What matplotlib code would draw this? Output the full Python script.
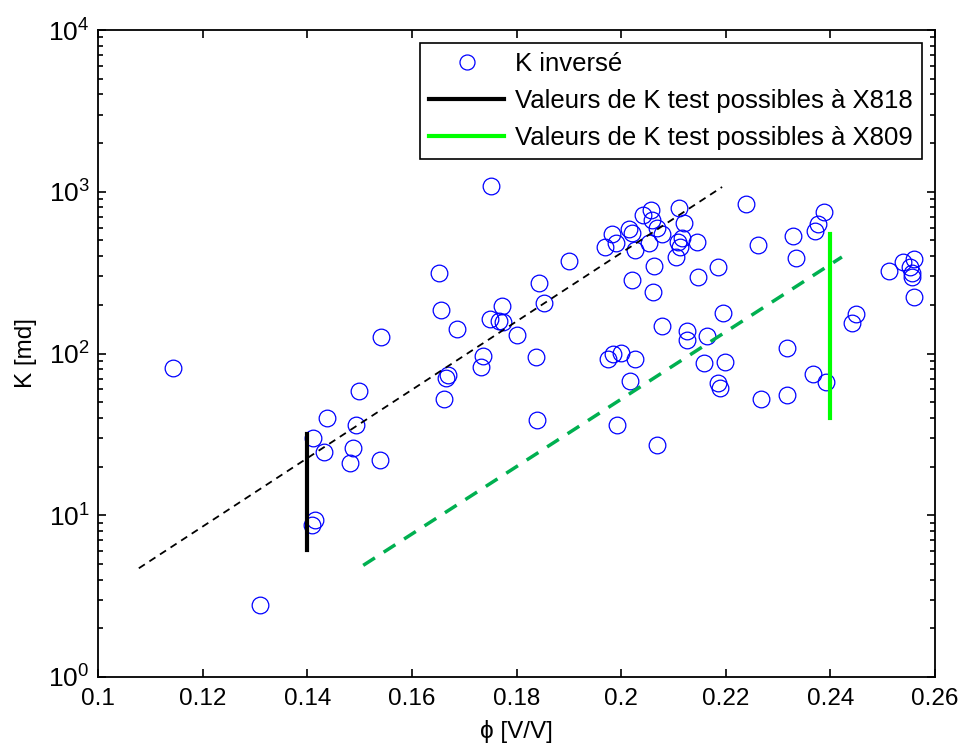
import matplotlib
matplotlib.use('Agg')
import matplotlib.pyplot as plt
import numpy as np
from matplotlib.ticker import LogLocator, NullFormatter

plt.rcParams['font.family'] = ['Liberation Sans', 'DejaVu Sans']
plt.rcParams['mathtext.default'] = 'regular'

# porosite / permeabilite inversee
phi = [0.1143, 0.1310, 0.1411, 0.1414, 0.1410, 0.1432, 0.1438, 0.1493, 0.1487,
       0.1482, 0.1499, 0.1539, 0.1541, 0.1652, 0.1656, 0.1686, 0.1751, 0.1772,
       0.1749, 0.1767, 0.1774, 0.1801, 0.1736, 0.1732, 0.1669, 0.1665, 0.1661,
       0.1837, 0.1843, 0.1853, 0.1900, 0.1839, 0.1992, 0.2069, 0.2021, 0.2063,
       0.2061, 0.2147, 0.2078, 0.2126, 0.2126, 0.2164, 0.2158, 0.1975, 0.1985,
       0.2000, 0.2027, 0.2017, 0.1969, 0.1983, 0.1990, 0.2015, 0.2021, 0.2027,
       0.2042, 0.2057, 0.2059, 0.2069, 0.2053, 0.2078, 0.2111, 0.2120, 0.2116,
       0.2109, 0.2113, 0.2105, 0.2145, 0.2185, 0.2239, 0.2262, 0.2329, 0.2334,
       0.2370, 0.2376, 0.2388, 0.2512, 0.2539, 0.2560, 0.2552, 0.2556, 0.2556,
       0.2560, 0.2449, 0.2441, 0.2195, 0.2199, 0.2185, 0.2189, 0.2317, 0.2367,
       0.2392, 0.2317, 0.2267]
K = [81, 2.8, 30, 9.3, 8.7, 24.5, 40, 36, 26,
     21, 59, 22, 126, 315, 186, 142, 1085, 197,
     163, 159, 157, 130, 96, 83, 74, 71, 52,
     95, 273, 205, 373, 39, 36, 27, 285, 347,
     240, 297, 148, 138, 121, 128, 87, 92, 99,
     101, 92, 68, 455, 548, 482, 589, 556, 436,
     718, 771, 668, 597, 482, 548, 794, 641, 518,
     489, 455, 395, 489, 343, 840, 469, 533, 389,
     572, 632, 750, 324, 368, 384, 343, 315, 297,
     224, 175, 154, 178, 89, 66, 61, 108, 75,
     67, 55, 52]

# tendances (droites en semilog)
fit_x818_phi = [0.1078, 0.2193]
fit_x818_K = [4.7, 1070]
fit_x809_phi = [0.1507, 0.2422]
fit_x809_K = [4.9, 395]

# plages de K test
x818_phi = [0.14, 0.14]
x818_K = [6.1, 32]
x809_phi = [0.24, 0.24]
x809_K = [40, 550]

fig = plt.figure(figsize=(9.66, 7.46), dpi=100)
ax = fig.add_axes([98/966, 69/746, 837/966, 647/746])

ax.semilogy(phi, K, 'o', mfc='none', mec='b', ms=12, mew=0.9, label='K inversé')
ax.plot(fit_x818_phi, fit_x818_K, 'k--', lw=1.3, dashes=(4, 3))
ax.plot(x818_phi, x818_K, 'k-', lw=3, label='Valeurs de K test possibles à X818')
ax.plot(x809_phi, x809_K, '-', color='#00ff00', lw=3, label='Valeurs de K test possibles à X809')
ax.plot(fit_x809_phi, fit_x809_K, '--', color='#00b050', lw=2.5, dashes=(4, 3))

ax.set_xlim(0.1, 0.26)
ax.set_ylim(1, 1e4)
ax.set_xticks(np.arange(0.1, 0.2601, 0.02))
ax.set_xticklabels(['0.1', '0.12', '0.14', '0.16', '0.18', '0.2', '0.22', '0.24', '0.26'])
ax.yaxis.set_major_locator(LogLocator(base=10, numticks=10))
ax.yaxis.set_minor_locator(LogLocator(base=10, subs=np.arange(2, 10), numticks=10))
ax.yaxis.set_minor_formatter(NullFormatter())

ax.tick_params(which='both', direction='in', top=True, right=True, width=1.2)
ax.tick_params(axis='x', labelsize=17.5, pad=8)
ax.tick_params(axis='y', labelsize=19, pad=6)
ax.tick_params(which='major', length=6)
ax.tick_params(which='minor', length=3.5)
for s in ax.spines.values():
    s.set_linewidth(1.3)

ax.set_xlabel('\u03d5 [V/V]', fontsize=17.5, labelpad=7)
ax.set_ylabel('K [md]', fontsize=17.5, labelpad=8)

leg = ax.legend(loc='upper right', fontsize=18.5, fancybox=False, edgecolor='k',
                framealpha=1, handlelength=2.9, handletextpad=0.45, borderpad=0.35,
                borderaxespad=0.5, labelspacing=0.5, markerscale=0.9)
leg.get_frame().set_linewidth(1.2)

fig.savefig('out.png', dpi=100)
